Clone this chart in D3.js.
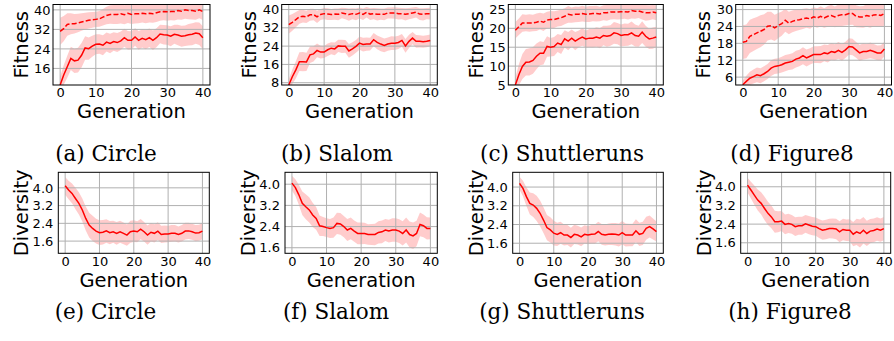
<!DOCTYPE html>
<html lang="en">
<head>
<meta charset="UTF-8" />
<title>fitness / diversity</title>
<script src="https://cdn.jsdelivr.net/npm/d3@7"></script>
<style>
  body { margin: 0; background: #fff; }
  svg { display: block; }
</style>
</head>
<body>
<svg width="894" height="341"></svg>
<script>
  // generations 0..40 on every x axis
  var generations = d3.range(0, 41);
  var xTicks = [0, 10, 20, 30, 40];

  // y tick labels per panel
  var circleFitTicks = [16, 24, 32, 40];
  var slalomFitTicks = [8, 16, 24, 32, 40];
  var shuttleFitTicks = [5, 10, 15, 20, 25];
  var figure8FitTicks = [6, 12, 18, 24, 30];
  var divTicks = [1.6, 2.4, 3.2, 4.0];

  // fitness: solid = population average, dashed = best (mean and spread)
  var circleAvg = [9.2, 13.3, 16.7, 20.1, 19.1, 19.4, 21.4, 24.4, 24.1, 25.1, 25.9, 26.0, 25.5, 26.8, 26.2, 27.0, 26.6, 27.3, 28.6, 27.5, 27.5, 28.9, 27.5, 28.3, 27.8, 28.6, 27.5, 28.6, 30.1, 29.8, 29.7, 29.2, 30.0, 29.7, 29.2, 29.4, 29.8, 30.0, 30.5, 30.2, 28.6];
  var circleAvgStd = [3.5, 4.0, 4.5, 4.8, 5.0, 5.1, 5.0, 4.8, 4.6, 4.3, 4.1, 4.0, 4.1, 3.9, 4.0, 3.8, 3.9, 3.8, 3.7, 3.8, 3.7, 3.6, 3.8, 3.7, 3.9, 3.8, 4.0, 3.9, 3.8, 4.0, 4.0, 4.1, 3.9, 4.2, 4.3, 4.2, 4.4, 4.5, 4.4, 4.6, 4.7];
  var circleBest = [31.2, 32.3, 34.0, 34.3, 34.3, 34.6, 35.0, 35.4, 35.7, 35.9, 36.1, 36.3, 37.0, 37.7, 38.1, 38.1, 38.1, 38.4, 38.0, 38.6, 38.1, 38.4, 38.4, 38.6, 38.4, 38.6, 38.4, 38.8, 39.2, 39.3, 39.2, 39.3, 39.3, 39.7, 39.4, 40.0, 39.7, 39.7, 39.4, 40.0, 39.3];
  var circleBestStd = [5.6, 5.2, 4.6, 4.3, 4.0, 3.8, 3.6, 3.4, 3.3, 3.2, 3.1, 3.2, 3.4, 3.6, 3.8, 3.9, 3.9, 4.0, 3.9, 4.0, 3.9, 4.0, 3.9, 3.8, 3.9, 3.8, 3.7, 3.8, 3.7, 3.6, 3.7, 3.6, 3.7, 3.6, 3.5, 3.6, 3.5, 3.6, 3.5, 3.4, 3.5];

  var slalomAvg = [7.0, 10.6, 13.6, 17.2, 17.2, 17.1, 20.2, 20.6, 22.1, 21.4, 21.4, 22.4, 23.1, 22.8, 24.1, 23.9, 23.9, 21.9, 22.8, 23.9, 25.3, 24.7, 24.9, 24.9, 26.8, 25.6, 24.9, 24.3, 24.9, 25.3, 25.3, 25.6, 26.5, 24.1, 26.1, 27.5, 26.1, 26.1, 25.9, 26.1, 26.5];
  var slalomAvgStd = [2.5, 3.2, 3.8, 4.1, 4.2, 4.0, 3.6, 3.3, 3.0, 2.8, 2.6, 2.7, 2.6, 2.8, 2.7, 2.9, 2.8, 3.0, 2.9, 2.8, 2.9, 3.0, 2.9, 2.8, 2.9, 3.0, 3.1, 3.0, 2.9, 3.0, 2.95, 2.9, 2.8, 3.0, 2.9, 2.7, 2.8, 2.7, 2.6, 2.6, 2.55];
  var slalomBest = [33.4, 34.4, 35.6, 36.8, 37.1, 36.8, 37.7, 37.8, 36.8, 37.8, 38.2, 38.0, 37.8, 38.0, 37.9, 38.5, 38.2, 37.8, 38.2, 37.9, 38.5, 37.9, 38.8, 38.0, 38.2, 37.9, 38.0, 37.9, 38.5, 38.5, 38.5, 38.2, 38.2, 37.9, 38.2, 38.5, 38.8, 38.0, 37.9, 38.2, 38.2];
  var slalomBestStd = [4.0, 3.7, 3.3, 3.0, 2.8, 2.7, 2.6, 2.5, 2.7, 2.4, 2.5, 2.6, 2.4, 2.5, 2.6, 2.3, 2.5, 2.7, 2.4, 2.6, 2.4, 2.5, 2.3, 2.6, 2.5, 2.7, 2.5, 2.6, 2.4, 2.4, 2.5, 2.6, 2.5, 2.7, 2.5, 2.4, 2.3, 2.6, 2.7, 2.5, 2.6];

  var shuttleAvg = [5.0, 7.7, 9.9, 11.0, 11.1, 11.5, 12.6, 13.4, 13.4, 15.2, 15.0, 15.2, 16.1, 15.7, 17.2, 16.6, 17.4, 16.6, 17.2, 17.7, 17.2, 17.4, 17.4, 17.7, 17.4, 18.1, 17.9, 18.1, 18.8, 18.6, 18.1, 18.3, 18.3, 18.8, 18.1, 17.9, 19.0, 17.9, 17.2, 17.4, 17.7];
  var shuttleAvgStd = [2.0, 2.8, 3.3, 3.5, 3.6, 3.55, 3.4, 3.2, 3.0, 2.7, 2.45, 2.5, 2.4, 2.5, 2.3, 2.4, 2.3, 2.4, 2.2, 2.3, 2.25, 2.4, 2.5, 2.6, 2.7, 2.6, 2.8, 2.7, 2.9, 2.8, 2.9, 3.0, 2.9, 3.0, 2.9, 2.8, 2.9, 2.8, 2.7, 2.8, 2.7];
  var shuttleBest = [19.5, 20.4, 21.4, 21.4, 21.4, 21.4, 21.6, 21.9, 21.6, 22.2, 22.3, 22.3, 22.6, 22.8, 23.2, 23.7, 23.5, 23.7, 23.7, 23.9, 23.7, 23.8, 23.9, 23.9, 23.8, 24.1, 24.1, 24.3, 24.3, 24.3, 24.4, 24.4, 24.3, 24.7, 24.5, 24.6, 24.3, 24.1, 24.1, 24.3, 24.1];
  var shuttleBestStd = [2.2, 2.2, 2.3, 2.2, 2.3, 2.2, 2.3, 2.2, 2.3, 2.2, 2.25, 2.2, 2.1, 2.2, 2.1, 2.2, 2.0, 2.1, 2.0, 2.1, 2.0, 2.1, 2.0, 2.1, 1.9, 2.0, 2.1, 2.0, 1.9, 2.0, 2.0, 1.9, 2.0, 2.1, 2.0, 1.9, 2.0, 2.1, 2.0, 1.9, 2.0];

  var figure8Avg = [3.3, 4.5, 5.6, 6.2, 6.8, 6.5, 7.2, 8.0, 9.2, 9.8, 10.0, 10.4, 11.0, 11.3, 11.6, 12.4, 12.8, 13.6, 12.8, 13.4, 14.0, 14.0, 14.0, 14.6, 14.3, 15.1, 14.8, 15.5, 14.8, 15.7, 16.9, 16.7, 15.7, 14.6, 15.1, 15.1, 15.5, 15.1, 14.6, 14.6, 16.0];
  var figure8AvgStd = [1.5, 2.0, 2.3, 2.5, 2.6, 2.65, 2.7, 2.7, 2.8, 2.7, 2.7, 2.8, 2.9, 2.8, 2.9, 3.0, 2.9, 3.0, 3.0, 2.9, 2.95, 3.0, 3.1, 3.0, 3.1, 3.0, 2.9, 3.0, 3.0, 2.9, 2.95, 2.9, 2.8, 2.9, 2.8, 2.7, 2.8, 2.7, 2.6, 2.7, 2.6];
  var figure8Best = [18.4, 18.7, 20.5, 21.1, 21.7, 22.3, 22.9, 24.1, 24.3, 23.5, 24.3, 25.0, 26.2, 25.2, 25.8, 26.2, 26.4, 26.7, 27.0, 26.7, 27.4, 27.0, 27.6, 27.0, 27.6, 27.9, 27.4, 27.9, 28.2, 28.2, 28.6, 28.6, 27.6, 27.4, 27.4, 27.9, 27.6, 28.1, 28.2, 27.9, 28.6];
  var figure8BestStd = [6.0, 6.0, 5.9, 5.8, 5.7, 5.65, 5.4, 5.1, 4.9, 4.7, 4.45, 4.3, 4.1, 4.0, 3.9, 3.8, 3.7, 3.6, 3.5, 3.5, 3.4, 3.5, 3.6, 3.5, 3.7, 3.8, 3.7, 3.9, 4.0, 3.9, 4.1, 4.0, 3.9, 3.8, 3.9, 4.0, 4.1, 4.0, 4.2, 4.1, 4.3];

  // diversity
  var circleDiv = [4.09, 3.90, 3.75, 3.52, 3.30, 3.00, 2.62, 2.32, 2.17, 2.05, 1.98, 2.00, 2.06, 1.98, 2.02, 1.95, 2.02, 1.95, 1.87, 2.02, 2.05, 2.02, 2.14, 2.02, 1.87, 2.00, 1.95, 2.05, 1.90, 1.92, 1.92, 1.95, 1.95, 1.90, 1.95, 2.05, 2.06, 2.02, 1.96, 1.98, 2.05];
  var circleDivStd = [0.40, 0.42, 0.45, 0.48, 0.50, 0.52, 0.54, 0.56, 0.57, 0.56, 0.56, 0.55, 0.53, 0.52, 0.50, 0.51, 0.50, 0.49, 0.48, 0.50, 0.49, 0.47, 0.46, 0.44, 0.43, 0.42, 0.41, 0.40, 0.39, 0.38, 0.37, 0.38, 0.37, 0.36, 0.37, 0.38, 0.37, 0.36, 0.37, 0.36, 0.37];
  var slalomDiv = [4.04, 3.87, 3.60, 3.28, 3.15, 3.03, 2.84, 2.71, 2.43, 2.40, 2.36, 2.33, 2.36, 2.52, 2.50, 2.40, 2.27, 2.33, 2.23, 2.14, 2.14, 2.14, 2.10, 2.10, 2.10, 2.18, 2.20, 2.27, 2.23, 2.27, 2.27, 2.23, 2.14, 2.27, 2.10, 2.05, 2.14, 2.48, 2.43, 2.33, 2.33];
  var slalomDivStd = [0.28, 0.32, 0.38, 0.44, 0.47, 0.48, 0.46, 0.43, 0.39, 0.36, 0.35, 0.36, 0.38, 0.40, 0.41, 0.40, 0.42, 0.41, 0.40, 0.41, 0.41, 0.40, 0.39, 0.40, 0.41, 0.42, 0.43, 0.42, 0.43, 0.44, 0.44, 0.45, 0.46, 0.47, 0.49, 0.50, 0.48, 0.45, 0.43, 0.42, 0.41];
  var shuttleDiv = [4.16, 3.94, 3.59, 3.30, 3.23, 3.09, 2.88, 2.59, 2.27, 2.17, 2.03, 1.98, 2.05, 1.95, 1.95, 1.84, 1.98, 1.95, 1.87, 1.98, 1.95, 1.98, 1.99, 2.10, 1.98, 1.95, 1.98, 1.99, 1.98, 1.95, 2.05, 1.95, 1.95, 1.95, 2.13, 1.98, 2.02, 2.24, 2.31, 2.21, 2.10];
  var shuttleDivStd = [0.28, 0.33, 0.40, 0.47, 0.51, 0.54, 0.55, 0.55, 0.54, 0.54, 0.53, 0.50, 0.47, 0.45, 0.43, 0.42, 0.41, 0.40, 0.40, 0.39, 0.39, 0.40, 0.41, 0.42, 0.44, 0.45, 0.46, 0.47, 0.48, 0.49, 0.50, 0.49, 0.48, 0.48, 0.49, 0.50, 0.50, 0.49, 0.47, 0.45, 0.43];
  var figure8Div = [4.07, 3.86, 3.64, 3.43, 3.29, 3.07, 2.86, 2.71, 2.50, 2.50, 2.53, 2.39, 2.43, 2.39, 2.29, 2.33, 2.33, 2.41, 2.36, 2.31, 2.29, 2.21, 2.14, 2.17, 2.21, 2.21, 2.19, 2.07, 2.17, 2.14, 2.14, 1.97, 2.07, 2.00, 2.14, 2.00, 2.10, 2.13, 2.19, 2.14, 2.21];
  var figure8DivStd = [0.32, 0.36, 0.41, 0.45, 0.48, 0.50, 0.50, 0.49, 0.47, 0.45, 0.43, 0.42, 0.41, 0.40, 0.40, 0.39, 0.39, 0.38, 0.39, 0.39, 0.39, 0.40, 0.41, 0.42, 0.42, 0.43, 0.44, 0.45, 0.46, 0.46, 0.47, 0.52, 0.56, 0.60, 0.57, 0.54, 0.52, 0.51, 0.50, 0.50, 0.50];

  // panel layout: box = [left, top, right, bottom] of the plot frame
  var panels = [
    { avg: circleAvg, avgStd: circleAvgStd, best: circleBest, bestStd: circleBestStd, ticks: circleFitTicks, yDom: [9.2, 42.2], box: [53, 4.5, 210, 85], label: 'Fitness', caption: '(a) Circle', capX: 106 },
    { avg: slalomAvg, avgStd: slalomAvgStd, best: slalomBest, bestStd: slalomBestStd, ticks: slalomFitTicks, yDom: [7, 42.2], box: [281.7, 4.5, 437.3, 85], label: 'Fitness', caption: '(b) Slalom', capX: 337 },
    { avg: shuttleAvg, avgStd: shuttleAvgStd, best: shuttleBest, bestStd: shuttleBestStd, ticks: shuttleFitTicks, yDom: [5, 26.3], box: [508.3, 4.5, 663.3, 85], label: 'Fitness', caption: '(c) Shuttleruns', capX: 562 },
    { avg: figure8Avg, avgStd: figure8AvgStd, best: figure8Best, bestStd: figure8BestStd, ticks: figure8FitTicks, yDom: [3.2, 31.8], box: [735.7, 4.5, 891.5, 85], label: 'Fitness', caption: '(d) Figure8', capX: 792 },
    { avg: circleDiv, avgStd: circleDivStd, ticks: divTicks, yDom: [1.05, 4.7], box: [58.3, 172.3, 209.3, 253.3], label: 'Diversity', caption: '(e) Circle', capX: 105.5, fmt: '.1f' },
    { avg: slalomDiv, avgStd: slalomDivStd, ticks: divTicks, yDom: [1.39, 4.45], box: [285, 172.3, 437.3, 253.3], label: 'Diversity', caption: '(f) Slalom', capX: 336, fmt: '.1f' },
    { avg: shuttleDiv, avgStd: shuttleDivStd, ticks: divTicks, yDom: [1.17, 4.63], box: [512.7, 172.3, 663.3, 253.3], label: 'Diversity', caption: '(g) Shuttleruns', capX: 562, fmt: '.1f' },
    { avg: figure8Div, avgStd: figure8DivStd, ticks: divTicks, yDom: [1.15, 4.62], box: [740.7, 172.3, 890.7, 253.3], label: 'Diversity', caption: '(h) Figure8', capX: 790, fmt: '.1f' }
  ];

  var svg = d3.select('svg');
  var sans = 'DejaVu Sans, sans-serif';

  panels.forEach(function (p, k) {
    var row2 = k >= 4;
    var L = p.box[0], T = p.box[1], R = p.box[2], B = p.box[3];
    var x = d3.scaleLinear().domain([-2, 42]).range([L, R]);
    var y = d3.scaleLinear().domain(p.yDom).range([B, T]);
    var g = svg.append('g');

    g.append('clipPath').attr('id', 'clip' + k)
      .append('rect').attr('x', L).attr('y', T).attr('width', R - L).attr('height', B - T);

    var plot = g.append('g').attr('clip-path', 'url(#clip' + k + ')');

    var area = function (m, s) {
      return d3.area()
        .x(function (d, i) { return x(generations[i]); })
        .y0(function (d, i) { return y(m[i] - s[i]); })
        .y1(function (d, i) { return y(m[i] + s[i]); })(m);
    };
    var line = d3.line()
      .x(function (d, i) { return x(generations[i]); })
      .y(function (d) { return y(d); });

    // bands
    if (p.best) plot.append('path').attr('d', area(p.best, p.bestStd)).attr('fill', 'red').attr('fill-opacity', 0.2);
    plot.append('path').attr('d', area(p.avg, p.avgStd)).attr('fill', 'red').attr('fill-opacity', 0.2);

    // grid
    plot.selectAll('.gx').data(xTicks).enter().append('line')
      .attr('x1', function (d) { return x(d); }).attr('x2', function (d) { return x(d); })
      .attr('y1', T).attr('y2', B).attr('stroke', '#b0b0b0').attr('stroke-width', 1);
    plot.selectAll('.gy').data(p.ticks).enter().append('line')
      .attr('y1', function (d) { return y(d); }).attr('y2', function (d) { return y(d); })
      .attr('x1', L).attr('x2', R).attr('stroke', '#b0b0b0').attr('stroke-width', 1);

    // lines
    if (p.best) plot.append('path').attr('d', line(p.best)).attr('fill', 'none')
      .attr('stroke', 'red').attr('stroke-width', 1.5).attr('stroke-dasharray', '5,2.2');
    plot.append('path').attr('d', line(p.avg)).attr('fill', 'none')
      .attr('stroke', 'red').attr('stroke-width', 1.5);

    // axes
    var ax = g.append('g').attr('transform', 'translate(0,' + B + ')')
      .call(d3.axisBottom(x).tickValues(xTicks).tickSize(0).tickPadding(row2 ? 3 : 2.5));
    var ay = g.append('g').attr('transform', 'translate(' + L + ',0)')
      .call(d3.axisLeft(y).tickValues(p.ticks).tickSize(0).tickPadding(row2 ? 5 : 2.5)
        .tickFormat(p.fmt ? d3.format(p.fmt) : d3.format('d')));
    [ax, ay].forEach(function (a) {
      a.select('.domain').remove();
      a.attr('font-family', sans).attr('font-size', 13);
      a.selectAll('text').attr('fill', '#000');
    });

    // frame
    g.append('rect').attr('x', L).attr('y', T).attr('width', R - L).attr('height', B - T)
      .attr('fill', 'none').attr('stroke', '#000').attr('stroke-width', 1);

    // labels
    g.append('text').attr('x', (L + R) / 2).attr('y', row2 ? 287 : 117.5)
      .attr('text-anchor', 'middle').attr('font-family', sans).attr('font-size', 19.5)
      .text('Generation');
    g.append('text')
      .attr('transform', 'translate(' + (L - (row2 ? 30 : 25.5)) + ',' + (T + B) / 2 + ') rotate(-90)')
      .attr('text-anchor', 'middle').attr('font-family', sans).attr('font-size', 19.5)
      .text(p.label);

    // caption
    svg.append('text').attr('x', p.capX).attr('y', row2 ? 319.3 : 160.5)
      .attr('text-anchor', 'middle').attr('font-family', 'DejaVu Serif, serif').attr('font-size', 21.5)
      .text(p.caption);
  });
</script>
</body>
</html>
